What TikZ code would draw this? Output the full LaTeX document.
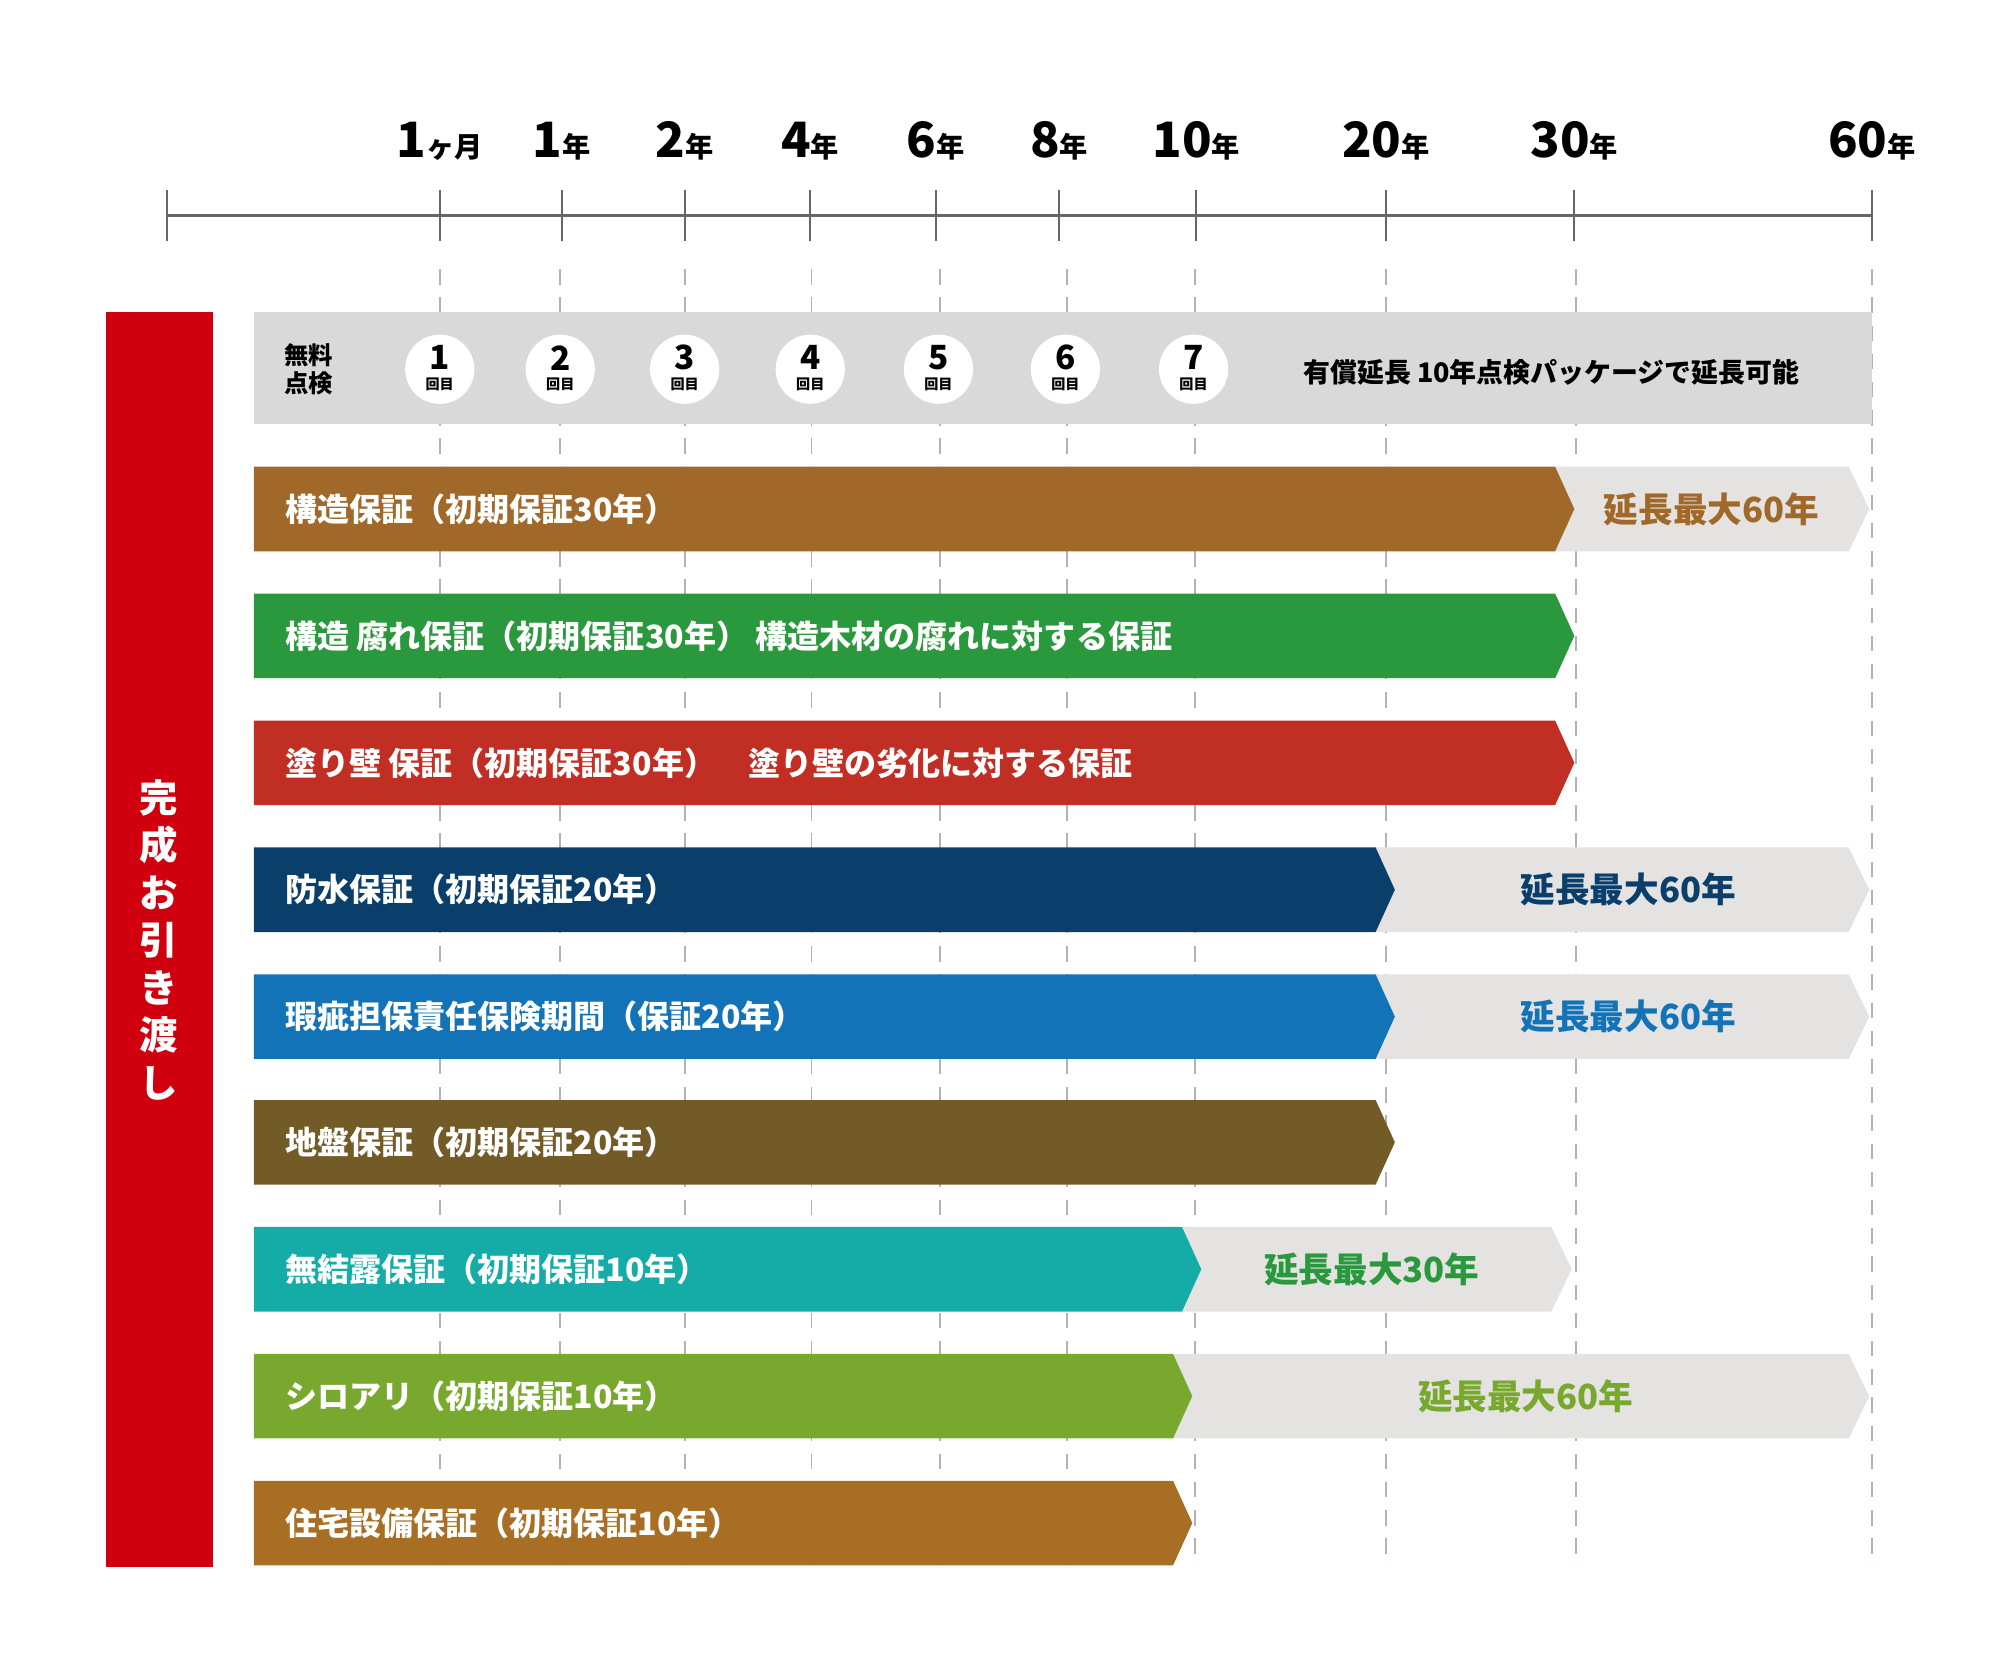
\documentclass[tikz,border=0pt]{standalone}
\usepackage{fontspec}
\setmainfont{Noto Sans CJK JP}
\begin{document}
\begin{tikzpicture}[x=0.5pt,y=-0.5pt,
  lbl/.style={anchor=west,text=white,font=\bfseries\fontsize{12.5}{14}\selectfont,inner sep=0},
  ext/.style={font=\bfseries\fontsize{13.5}{15}\selectfont,inner sep=0},
  yr/.style={font=\bfseries\fontsize{19}{20}\selectfont,inner sep=0,anchor=base},
  circ/.style={circle,fill=white,minimum size=27pt,inner sep=0}]
\useasboundingbox (0,0) rectangle (1560,1307);
\definecolor{gr}{HTML}{D9D9D9}\definecolor{exg}{HTML}{E4E3E1}
\definecolor{c1}{HTML}{A0692A}\definecolor{c2}{HTML}{2A983C}\definecolor{c3}{HTML}{C12E23}
\definecolor{c4}{HTML}{0B3F6B}\definecolor{c5}{HTML}{1273B8}\definecolor{c6}{HTML}{735B28}
\definecolor{c7}{HTML}{15ABA6}\definecolor{c8}{HTML}{78A92E}\definecolor{c9}{HTML}{A86E24}
\definecolor{rd}{HTML}{D0000F}
% axis
\draw[gray!80!black,line width=1pt] (130,168) -- (1460,168);
\foreach \x/\n/\u [count=\i] in {343/1/ヶ月,438/1/年,534/2/年,632/4/年,730/6/年,826/8/年,933/10/年,1081/20/年,1228/30/年,1460/60/年}{
  \draw[gray!80!black,line width=0.8pt] (\x,148) -- (\x,188);
  \node[yr] (t\i) at (\x,123) {\n{\fontsize{11}{12}\selectfont\u}};
}
\draw[gray!80!black,line width=0.8pt] (130,148) -- (130,188);
\foreach \x in {343,437,534,633,733,832,932,1081,1229,1460}
  \draw[gray!60,dashed,dash pattern=on 6pt off 5pt,line width=0.7pt] (\x,210) -- (\x,1222);
% red bar
\fill[rd] (83,243) rectangle (166,1222);
\node[text=white,font=\bfseries\fontsize{15}{18.5}\selectfont,align=center,inner sep=0] (hand) at (124,733) {完\\成\\お\\引\\き\\渡\\し};
% gray row
\fill[gr] (198,243) rectangle (1460,331);
\node[font=\bfseries\fontsize{9.5}{11}\selectfont,align=left,inner sep=0] (muryo) at (241,288) {無料\\点検};
\foreach \x [count=\i] in {343,437,534,632,732,831,931}{
  \node[circ] (c\i) at (\x,288) {};
  \node[font=\bfseries\fontsize{13}{13}\selectfont,inner sep=0] at (\x,279) {\i};
  \node[font=\bfseries\fontsize{5.5}{6}\selectfont,inner sep=0] at (\x,300) {回目};
}
\node[font=\bfseries\fontsize{10.5}{12}\selectfont,inner sep=0] (paid) at (1210,290) {有償延長 10年点検パッケージで延長可能};
% bars
\foreach \c/\xe/\xx/\tc/\tx/\txt/\lab [count=\i] in {
 397/1213/1442/c1/1335/延長最大60年/{構造保証（初期保証30年）},
 496/1213/0/c2/0//{構造\ 腐れ保証（初期保証30年）\ 構造木材の腐れに対する保証},
 595/1213/0/c3/0//{塗り壁\ 保証（初期保証30年）\quad 塗り壁の劣化に対する保証},
 694/1073/1442/c4/1270/延長最大60年/{防水保証（初期保証20年）},
 793/1073/1442/c5/1270/延長最大60年/{瑕疵担保責任保険期間（保証20年）},
 891/1073/0/c6/0//{地盤保証（初期保証20年）},
 990/922/1210/c2/1070/延長最大30年/{無結露保証（初期保証10年）},
 1089/915/1442/c8/1190/延長最大60年/{シロアリ（初期保証10年）},
 1188/915/0/c9/0//{住宅設備保証（初期保証10年）}}{
  \ifnum\xx>0
   \fill[exg] (\xe,\c-33) -- (\xx,\c-33) -- (\xx+16,\c) -- (\xx,\c+33) -- (\xe,\c+33) -- (\xe+15,\c) -- cycle;
   \node[ext,text=\tc] (e\i) at (\tx,\c) {\txt};
  \fi
  \fill[c\i] (198,\c-33) -- (\xe,\c-33) -- (\xe+15,\c) -- (\xe,\c+33) -- (198,\c+33) -- cycle;
  \node[lbl] (b\i) at (222,\c) {\lab};
}
\end{tikzpicture}
\end{document}
